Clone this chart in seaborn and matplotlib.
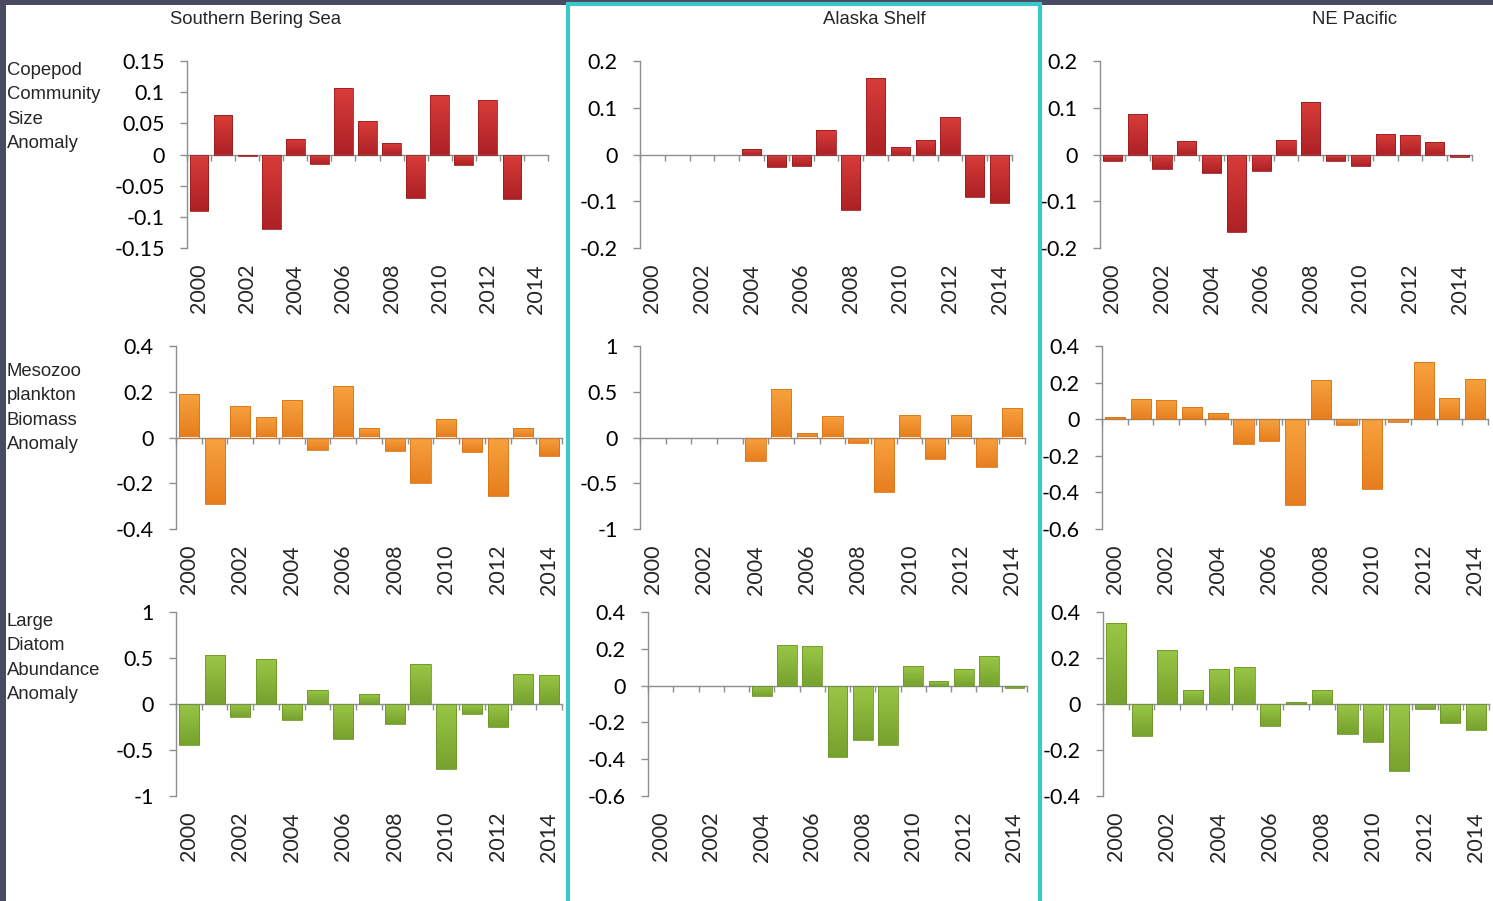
import numpy as np
import pandas as pd
import matplotlib
matplotlib.use("Agg")
import matplotlib.pyplot as plt
import seaborn as sns
from matplotlib.colors import LinearSegmentedColormap
from matplotlib.patches import Rectangle

# ---------------------------------------------------------------- data
years = [str(y) for y in range(2000, 2015)]
year_labels = years[::2]
regions = ["Southern Bering Sea", "Alaska Shelf", "NE Pacific"]
metrics = ["Copepod\nCommunity\nSize\nAnomaly",
           "Mesozoo\nplankton\nBiomass\nAnomaly",
           "Large\nDiatom\nAbundance\nAnomaly"]
nan = np.nan

copepod_sbs = [-0.090, 0.063, -0.003, -0.120, 0.025, -0.016, 0.107, 0.054,
               0.019, -0.069, 0.095, -0.017, 0.088, -0.071, nan]
copepod_ak = [nan, nan, nan, nan, 0.012, -0.027, -0.025, 0.053,
              -0.118, 0.163, 0.016, 0.030, 0.081, -0.091, -0.103]
copepod_nep = [-0.013, 0.086, -0.032, 0.029, -0.039, -0.166, -0.036, 0.031,
               0.112, -0.013, -0.025, 0.043, 0.041, 0.026, -0.005]

mesozoo_sbs = [0.188, -0.290, 0.137, 0.088, 0.163, -0.053, 0.223, 0.043,
               -0.058, -0.197, 0.082, -0.063, -0.255, 0.043, -0.079]
mesozoo_ak = [nan, nan, nan, nan, -0.255, 0.525, 0.050, 0.234,
              -0.065, -0.597, 0.245, -0.237, 0.248, -0.317, 0.327]
mesozoo_nep = [0.014, 0.110, 0.107, 0.069, 0.033, -0.134, -0.118, -0.470,
               0.215, -0.031, -0.384, -0.016, 0.313, 0.118, 0.221]

diatom_sbs = [-0.450, 0.529, -0.144, 0.489, -0.173, 0.155, -0.385, 0.108,
              -0.212, 0.432, -0.709, -0.104, -0.252, 0.327, 0.317]
diatom_ak = [nan, nan, nan, nan, -0.056, 0.218, 0.213, -0.386,
             -0.295, -0.321, 0.104, 0.027, 0.092, 0.162, -0.014]
diatom_nep = [0.352, -0.137, 0.235, 0.062, 0.152, 0.161, -0.094, 0.009,
              0.063, -0.132, -0.164, -0.291, -0.022, -0.082, -0.111]

series = [[copepod_sbs, copepod_ak, copepod_nep],
          [mesozoo_sbs, mesozoo_ak, mesozoo_nep],
          [diatom_sbs, diatom_ak, diatom_nep]]

# y tick values for each panel (row by row)
yticks = [[[0.15, 0.1, 0.05, 0, -0.05, -0.1, -0.15],
           [0.2, 0.1, 0, -0.1, -0.2],
           [0.2, 0.1, 0, -0.1, -0.2]],
          [[0.4, 0.2, 0, -0.2, -0.4],
           [1, 0.5, 0, -0.5, -1],
           [0.4, 0.2, 0, -0.2, -0.4, -0.6]],
          [[1, 0.5, 0, -0.5, -1],
           [0.4, 0.2, 0, -0.2, -0.4, -0.6],
           [0.4, 0.2, 0, -0.2, -0.4]]]

# ---------------------------------------------------------------- style
W, H = 1493, 901
sns.set_style("white")
plt.rcParams["font.family"] = ["Lato", "DejaVu Sans"]
narrow = ["Liberation Sans", "DejaVu Sans"]

row_colors = [("#d83c39", "#ad2125"),
              ("#f7a23e", "#e77e1e"),
              ("#9ac646", "#76a22e")]
edge_colors = ["#9a1c20", "#d9741a", "#6d9629"]
axis_grey = "#8e8e8e"

# panel boxes in pixels: (left, right) per row/column, (top, bottom) per row
col_bounds = [[(187, 548), (640, 1012), (1100, 1472)],
              [(176, 562), (640, 1025), (1102, 1488)],
              [(176, 562), (648, 1027), (1103, 1489)]]
row_bounds = [(61, 248), (346, 529), (612, 796)]

fig = plt.figure(figsize=(W / 100, H / 100), dpi=100)
fig.patch.set_facecolor("white")


def shade_bars(ax, light, dark, edge):
    """Fill each bar with a vertical light-to-dark gradient."""
    cmap = LinearSegmentedColormap.from_list("bar_grad", [light, dark])
    grad = np.linspace(0, 1, 64).reshape(-1, 1)
    for bar in list(ax.patches):
        x0, w = bar.get_x(), bar.get_width()
        y, h = bar.get_y(), bar.get_height()
        if not np.isfinite(h) or h == 0:
            continue
        lo, hi = min(y, y + h), max(y, y + h)
        im = ax.imshow(grad, cmap=cmap, aspect="auto", origin="upper",
                       extent=(x0, x0 + w, lo, hi), interpolation="bilinear",
                       zorder=2)
        im.set_clip_path(bar)
        bar.set_facecolor("none")
        bar.set_edgecolor(edge)
        bar.set_linewidth(0.6)
        bar.set_zorder(3)


def fmt(v):
    return "0" if v == 0 else f"{v:g}"


for r in range(3):
    top, bottom = row_bounds[r]
    for c in range(3):
        left, right = col_bounds[r][c]
        ax = fig.add_axes([left / W, 1 - bottom / H,
                           (right - left) / W, (bottom - top) / H])
        ax.patch.set_alpha(0)
        df = pd.DataFrame({"year": years, "value": series[r][c]}).dropna()
        sns.barplot(data=df, x="year", y="value", order=years,
                    color=row_colors[r][0], saturation=1, width=0.78,
                    errorbar=None, ax=ax)
        shade_bars(ax, row_colors[r][0], row_colors[r][1], edge_colors[r])

        ticks = yticks[r][c]
        ax.set_xlim(-0.5, len(years) - 0.5)
        ax.set_ylim(min(ticks), max(ticks))
        ax.set_yticks(ticks)
        ax.set_yticklabels([fmt(t) for t in ticks])
        ax.set_xlabel("")
        ax.set_ylabel("")

        for side in ("top", "right"):
            ax.spines[side].set_visible(False)
        ax.spines["left"].set_color(axis_grey)
        ax.spines["left"].set_linewidth(1.0)
        # category axis drawn through zero with marks between categories
        ax.spines["bottom"].set_position(("data", 0))
        ax.spines["bottom"].set_color(axis_grey)
        ax.spines["bottom"].set_linewidth(1.0)
        ax.set_xticks(np.arange(-0.5, len(years), 1.0))
        ax.set_xticklabels([])
        ax.tick_params(axis="x", direction="out", length=4, width=1,
                       color=axis_grey, bottom=True)
        ax.tick_params(axis="y", direction="out", length=5, width=1,
                       color=axis_grey, left=True, labelsize=15.5,
                       pad=11, labelcolor="black")

        # year labels sit below the plot area
        sec = ax.secondary_xaxis("bottom")
        sec.set_xticks(range(0, len(years), 2))
        sec.set_xticklabels(year_labels, rotation=90, fontsize=15.5)
        sec.tick_params(length=0, pad=11.5)
        sec.spines["bottom"].set_visible(False)

# column headings and row captions
col_centers = [255, 874, 1355]
for name, cx in zip(regions, col_centers):
    fig.text(cx / W, 1 - 19 / H, name, ha="center", va="center",
             fontsize=13.3, family=narrow)
row_tops = [62, 363, 613]
for label, ty in zip(metrics, row_tops):
    fig.text(7 / W, 1 - ty / H, label, ha="left", va="top",
             fontsize=13.3, family=narrow, linespacing=1.57)

# slide frame: dark band on top and left, cyan box round the middle column
frame = "#4a4a62"
fig.add_artist(Rectangle((0, 1 - 4.5 / H), 1, 4.5 / H, transform=fig.transFigure,
                         facecolor=frame, edgecolor="none", zorder=10))
fig.add_artist(Rectangle((0, 0), 6 / W, 1, transform=fig.transFigure,
                         facecolor=frame, edgecolor="none", zorder=10))
cyan = "#3cc8ca"
fig.add_artist(Rectangle((568 / W, -0.02), (1039.5 - 568) / W, 1.0 - 3.5 / H + 0.02,
                         transform=fig.transFigure, facecolor="none",
                         edgecolor=cyan, linewidth=3.0, zorder=11))

fig.savefig("out.png", dpi=100, facecolor="white")
